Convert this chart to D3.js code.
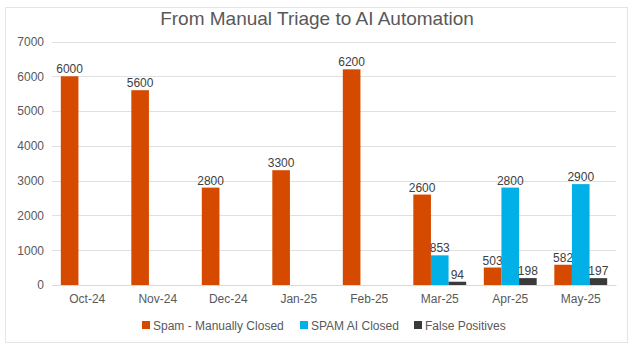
<!DOCTYPE html>
<html>
<head>
<meta charset="utf-8">
<script src="https://cdn.jsdelivr.net/npm/d3@7"></script>
<style>
  body { margin: 0; background: #fff; }
  text { font-family: "Liberation Sans", Arial, sans-serif; }
</style>
</head>
<body>
<div id="chart"></div>
<script>
(function () {
    const months = ["Oct-24", "Nov-24", "Dec-24", "Jan-25", "Feb-25", "Mar-25", "Apr-25", "May-25"];
    const manualClosed = [6000, 5600, 2800, 3300, 6200, 2600, 503, 582];
    const aiClosed = [null, null, null, null, null, 853, 2800, 2900];
    const falsePositives = [null, null, null, null, null, 94, 198, 197];
    const seriesNames = ["Spam - Manually Closed", "SPAM AI Closed", "False Positives"];
    const yTicks = [0, 1000, 2000, 3000, 4000, 5000, 6000, 7000];

    const width = 635, height = 354;
    const plot_left = 52, plot_right = 616;
    const plot_top = 41.5, plot_bottom = 285;
    const colors = ["#D64A00", "#00B0E6", "#3A3A3A"];
    const font_size = 12;

    const allSeries = [manualClosed, aiClosed, falsePositives];

    const svg = d3.select('#chart').append('svg')
        .attr('width', width)
        .attr('height', height);

    // outer frame
    svg.append('rect')
        .attr('x', 5.5).attr('y', 7.5)
        .attr('width', 622).attr('height', 335)
        .attr('fill', '#fff')
        .attr('stroke', '#e4e4e4');

    svg.append('text')
        .attr('x', 317).attr('y', 25)
        .attr('text-anchor', 'middle')
        .attr('font-size', 19)
        .attr('fill', '#595959')
        .text('From Manual Triage to AI Automation');

    const x = d3.scaleBand().domain(months).range([plot_left, plot_right]).paddingInner(0.25).paddingOuter(0.125);
    const xs = d3.scaleBand().domain(d3.range(3)).range([0, x.bandwidth()]);
    const y = d3.scaleLinear().domain([0, 7000]).range([plot_bottom, plot_top]);

    // gridlines
    svg.append('g').selectAll('line').data(yTicks).enter().append('line')
        .attr('x1', plot_left).attr('x2', plot_right)
        .attr('y1', d => Math.round(y(d)) + 0.5)
        .attr('y2', d => Math.round(y(d)) + 0.5)
        .attr('stroke', '#e0e0e0');

    // y axis labels
    const yAxis = d3.axisLeft(y).tickValues(yTicks).tickFormat(d3.format('d')).tickSize(0).tickPadding(8);
    const yg = svg.append('g').attr('transform', `translate(${plot_left},0)`).call(yAxis);
    yg.select('.domain').remove();
    yg.selectAll('text').attr('font-size', font_size).attr('fill', '#595959').style('font-family', '"Liberation Sans", Arial, sans-serif');

    // x axis
    const xAxis = d3.axisBottom(x).tickSize(0).tickPadding(9);
    const xg = svg.append('g').attr('transform', `translate(0,${plot_bottom})`).call(xAxis);
    xg.select('.domain').attr('stroke', '#d9d9d9');
    xg.selectAll('text').attr('font-size', font_size).attr('fill', '#595959').style('font-family', '"Liberation Sans", Arial, sans-serif');

    // bars
    allSeries.forEach(function (values, si) {
        const data = months.map((m, i) => ({ month: m, value: values[i] })).filter(d => d.value != null);
        const g = svg.append('g');
        g.selectAll('rect').data(data).enter().append('rect')
            .attr('x', d => x(d.month) + xs(si))
            .attr('y', d => y(d.value))
            .attr('width', xs.bandwidth())
            .attr('height', d => y(0) - y(d.value))
            .attr('fill', colors[si]);
        g.selectAll('text').data(data).enter().append('text')
            .attr('x', d => x(d.month) + xs(si) + xs.bandwidth() / 2)
            .attr('y', d => y(d.value) - 3)
            .attr('text-anchor', 'middle')
            .attr('font-size', font_size)
            .attr('fill', '#404040')
            .text(d => d.value);
    });

    // legend
    const legendX = [142, 300, 414];
    const legend = svg.append('g').attr('transform', 'translate(0,325)');
    seriesNames.forEach(function (name, i) {
        legend.append('rect')
            .attr('x', legendX[i]).attr('y', -4)
            .attr('width', 8).attr('height', 8)
            .attr('fill', colors[i]);
        legend.append('text')
            .attr('x', legendX[i] + 11).attr('y', 4.5)
            .attr('font-size', font_size)
            .attr('fill', '#595959')
            .text(name);
    });
})();
</script>
</body>
</html>
